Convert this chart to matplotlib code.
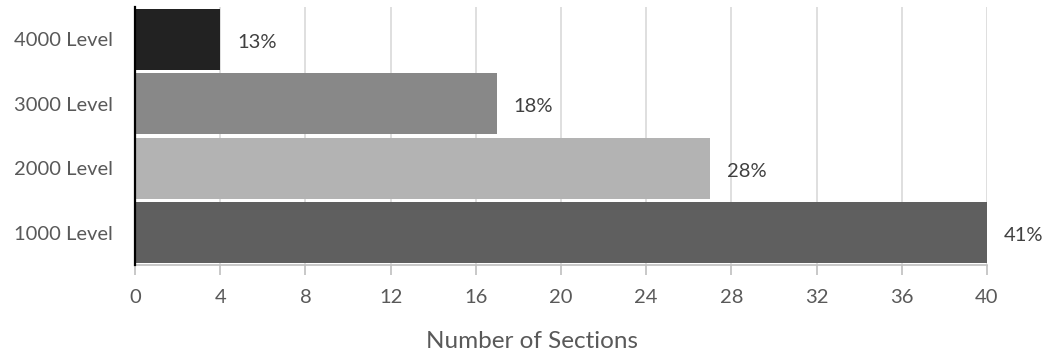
import matplotlib.pyplot as plt

plt.rcParams['font.family'] = ['Lato', 'DejaVu Sans']

levels = ['1000 Level', '2000 Level', '3000 Level', '4000 Level']
sections = [40, 27, 17, 4]
shares = ['41%', '28%', '18%', '13%']
colors = ['#5f5f5f', '#b3b3b3', '#888888', '#222222']
xticks = list(range(0, 41, 4))

text_color = '#595959'
fs = 14.5

fig = plt.figure(figsize=(10.5, 3.6), dpi=100)
ax = fig.add_axes([135 / 1050, 1 - 265 / 360, (987 - 135) / 1050, (265 - 7) / 360])

ax.barh(levels, sections, height=0.94, color=colors, zorder=3)

for i, (v, s) in enumerate(zip(sections, shares)):
    ax.annotate(s, (v, i), xytext=(12, -2), textcoords='offset points',
                va='center', ha='left', fontsize=fs, color='#404040')

ax.set_xlim(0, 40)
ax.set_ylim(-0.5, 3.5)
ax.set_xticks(xticks)
ax.grid(axis='x', color='#d9d9d9', linewidth=1.2, zorder=0)

for side in ('top', 'right'):
    ax.spines[side].set_visible(False)
ax.spines['left'].set_color('black')
ax.spines['left'].set_linewidth(1.6)
ax.spines['left'].set_zorder(4)
ax.spines['bottom'].set_color('#bfbfbf')
ax.spines['bottom'].set_linewidth(1.2)

ax.tick_params(axis='x', direction='out', length=7, width=1.2, color='#bfbfbf',
               labelsize=fs, labelcolor=text_color, pad=10)
ax.tick_params(axis='y', length=0, labelsize=fs, labelcolor=text_color, pad=16)

# axis title sits a little left of the plot centre
fig.text(532 / 1050, 1 - 342 / 360, 'Number of Sections', fontsize=17.5,
         color=text_color, ha='center', va='center')

fig.savefig('out.png', dpi=100)
